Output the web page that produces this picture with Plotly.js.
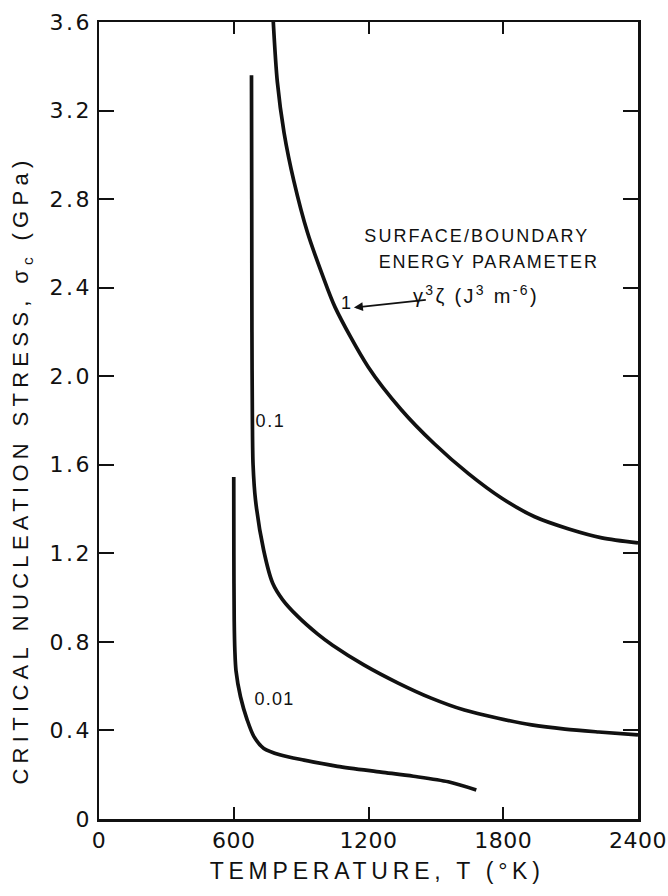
<!DOCTYPE html>
<html>
<head>
<meta charset="utf-8">
<script src="https://cdn.plot.ly/plotly-3.0.1.min.js"></script>
<style>
html,body{margin:0;padding:0;background:#fff;}
#chart{width:668px;height:896px;}
g.ytick text{letter-spacing:2.5px;}
g.xtick text{letter-spacing:0.5px;}
</style>
</head>
<body>
<div id="chart"></div>
<script>
// Curve for γ³ζ = 1
const t1 = [776, 794, 824, 868, 928, 995, 1052, 1198, 1345, 1493, 1645, 1792, 1940, 2092, 2239, 2400];
const s1 = [3.60, 3.33, 3.10, 2.88, 2.65, 2.457, 2.31, 2.043, 1.85, 1.695, 1.56, 1.45, 1.365, 1.31, 1.27, 1.247];
// Curve for γ³ζ = 0.1
const t01 = [679, 680, 681, 683, 686, 697, 733, 773, 818, 885, 974, 1040, 1181, 1332, 1479, 1627, 1777, 1926, 2075, 2225, 2400];
const s01 = [3.36, 2.80, 2.20, 1.80, 1.60, 1.44, 1.215, 1.066, 0.99, 0.915, 0.835, 0.785, 0.695, 0.614, 0.546, 0.492, 0.455, 0.425, 0.406, 0.393, 0.38];
// Curve for γ³ζ = 0.01
const t001 = [600, 600.5, 602, 605, 610, 630, 660, 690, 734, 809, 913, 1062, 1256, 1400, 1555, 1680];
const s001 = [1.545, 1.20, 0.90, 0.76, 0.67, 0.552, 0.447, 0.372, 0.319, 0.289, 0.266, 0.238, 0.212, 0.193, 0.168, 0.131];

const xTicks = [0, 600, 1200, 1800, 2400];
const xTickText = ['0', '600', '1200', '1800', '2400'];
const yTicks = [0, 0.4, 0.8, 1.2, 1.6, 2.0, 2.4, 2.8, 3.2, 3.6];
const yTickText = ['0', '0.4', '0.8', '1.2', '1.6', '2.0', '2.4', '2.8', '3.2', '3.6'];

const xTitle = 'TEMPERATURE, T (°K)';
const yTitle = 'CRITICAL NUCLEATION STRESS, σ<sub>c</sub> (GPa)';
const noteLine1 = 'SURFACE/BOUNDARY';
const noteLine2 = 'ENERGY PARAMETER';
const noteParam = 'γ<sup>3</sup>ζ (J<sup>3</sup> m<sup>-6</sup>)';
const curveLabels = ['1', '0.1', '0.01'];

const ink = '#111';
const lineStyle = {color: ink, width: 3.7, shape: 'spline', smoothing: 0.8};

const traces = [
  {x: t1, y: s1, mode: 'lines', line: lineStyle, name: curveLabels[0], hoverinfo: 'skip'},
  {x: t01, y: s01, mode: 'lines', line: lineStyle, name: curveLabels[1], hoverinfo: 'skip'},
  {x: t001, y: s001, mode: 'lines', line: lineStyle, name: curveLabels[2], hoverinfo: 'skip'}
];

const lib = 'Liberation Sans, Arial, sans-serif';
const dj = 'DejaVu Sans, sans-serif';

const layout = {
  width: 668, height: 896,
  margin: {l: 99, r: 30, t: 22, b: 77},
  paper_bgcolor: '#fff', plot_bgcolor: '#fff',
  showlegend: false,
  font: {family: lib, color: ink},
  xaxis: {
    range: [0, 2400], tickvals: xTicks, ticktext: xTickText,
    ticks: 'inside', ticklen: 12, tickwidth: 2, tickcolor: ink,
    showline: true, linewidth: 2.5, linecolor: ink, mirror: 'ticks',
    showgrid: false, zeroline: false, ticklabeloverflow: 'allow',
    tickfont: {size: 22, family: dj, color: ink}
  },
  yaxis: {
    range: [0, 3.6], tickvals: yTicks, ticktext: yTickText,
    ticks: 'inside', ticklen: 15, tickwidth: 2, tickcolor: ink,
    showline: true, linewidth: 2.5, linecolor: ink, mirror: 'ticks',
    showgrid: false, zeroline: false, ticklabeloverflow: 'allow',
    tickfont: {size: 22, family: dj, color: ink}
  },
  annotations: [
    {x: (377 - 99) / 539, y: (819 - 871) / 797, xref: 'paper', yref: 'paper', text: xTitle, showarrow: false,
     xanchor: 'center', yanchor: 'middle', font: {size: 23, family: lib, color: ink}},
    {x: (22 - 99) / 539, y: (819 - 470) / 797, xref: 'paper', yref: 'paper', text: yTitle, showarrow: false, textangle: -90,
     xanchor: 'center', yanchor: 'middle', font: {size: 22, family: lib, color: ink}},
    {x: 1685, y: 2.635, xref: 'x', yref: 'y', text: noteLine1, showarrow: false, font: {size: 18, family: lib, color: ink}},
    {x: 1734, y: 2.515, xref: 'x', yref: 'y', text: noteLine2, showarrow: false, font: {size: 18, family: lib, color: ink}},
    {x: 1135, y: 2.31, xref: 'x', yref: 'y', ax: 1680, ay: 2.37, axref: 'x', ayref: 'y',
     text: noteParam, showarrow: true, arrowhead: 2, arrowsize: 1, arrowwidth: 1.8, arrowcolor: ink,
     font: {size: 20, family: lib, color: ink}},
    {x: 1099, y: 2.33, xref: 'x', yref: 'y', text: curveLabels[0], showarrow: false, font: {size: 18, family: lib, color: ink}},
    {x: 762, y: 1.80, xref: 'x', yref: 'y', text: curveLabels[1], showarrow: false, font: {size: 18, family: lib, color: ink}},
    {x: 780, y: 0.54, xref: 'x', yref: 'y', text: curveLabels[2], showarrow: false, font: {size: 18, family: lib, color: ink}}
  ]
};

// target text lengths (px) for the widely spaced lettering of the original
const spacingTargets = {0: 335, 1: 640, 2: 225, 3: 220, 4: 140, 6: 30, 7: 40};

Plotly.newPlot('chart', traces, layout, {displayModeBar: false, staticPlot: true}).then(function (gd) {
  const anns = gd.querySelectorAll('.annotation');
  anns.forEach(function (a, i) {
    if (!(i in spacingTargets)) return;
    const t = a.querySelector('text.annotation-text');
    if (!t) return;
    t.style.letterSpacing = '0px';
    const w = t.getBBox().width;
    const n = t.textContent.length;
    const ls = (spacingTargets[i] - w) / n;
    if (ls > 0) t.style.letterSpacing = ls.toFixed(2) + 'px';
  });
});
</script>
</body>
</html>
